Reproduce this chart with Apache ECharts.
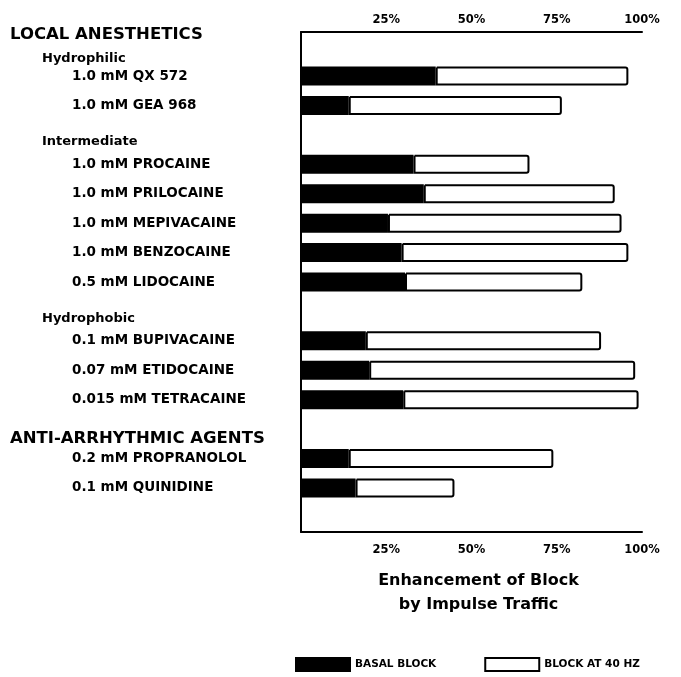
<!DOCTYPE html>
<html>
<head>
<meta charset="utf-8">
<script src="https://cdn.jsdelivr.net/npm/echarts@6/dist/echarts.min.js"></script>
<style>
  html,body{margin:0;padding:0;background:#fff;}
  #chart{width:681px;height:677px;}
</style>
</head>
<body>
<div id="chart"></div>
<script>
// rows, top to bottom (headers and blank rows have no bars)
var rowLabels = [
  'LOCAL ANESTHETICS|Hydrophilic',
  '1.0 mM QX 572',
  '1.0 mM GEA 968',
  'Intermediate',
  '1.0 mM PROCAINE',
  '1.0 mM PRILOCAINE',
  '1.0 mM MEPIVACAINE',
  '1.0 mM BENZOCAINE',
  '0.5 mM LIDOCAINE',
  'Hydrophobic',
  '0.1 mM BUPIVACAINE',
  '0.07 mM ETIDOCAINE',
  '0.015 mM TETRACAINE',
  'ANTI-ARRHYTHMIC AGENTS',
  '0.2 mM PROPRANOLOL',
  '0.1 mM QUINIDINE',
  ''
];
var groupLabels = ['LOCAL ANESTHETICS', 'ANTI-ARRHYTHMIC AGENTS'];
var subLabels = ['Hydrophilic', 'Intermediate', 'Hydrophobic'];
// % block
var basalBlock = [null, 39.5, 14, null, 33, 36, 25.5, 29.5, 30.5, null, 19, 20, 30, null, 14, 16, null];
var block40Hz  = [null, 96, 76.5, null, 67, 92, 94, 96, 82.5, null, 88, 98, 99, null, 74, 45, null];
var tickValues = [25, 50, 75, 100];

var extraBlock = [];
for(var i=0;i<block40Hz.length;i++)
{
  extraBlock[i] = block40Hz[i]==null ? null : +(block40Hz[i]-basalBlock[i]).toFixed(1);
}

var font = 'DejaVu Sans';
var chart = echarts.init(document.getElementById('chart'));

function rowFormatter(v, idx)
{
  var parts = v.split('|');
  var out = [];
  for(var i=0;i<parts.length;i++)
  {
    var p = parts[i];
    if(groupLabels.indexOf(p)>=0) out.push((idx>0?'{grpLow|':'{grp|')+p+'}');
    else if(subLabels.indexOf(p)>=0) out.push((idx>0?'{subLow|':'{sub|')+p+'}');
    else if(p!=='') out.push('{item|'+p+'}');
  }
  return out.join('\n');
}

function tickFormatter(v)
{
  return tickValues.indexOf(v)>=0 ? v+'%' : '';
}

var xAxisBase = {
  type: 'value',
  min: 0,
  max: 100,
  interval: 25,
  axisLine: {show: true, lineStyle: {color: '#000', width: 2}},
  axisTick: {show: false},
  splitLine: {show: false},
  axisLabel: {
    formatter: tickFormatter,
    color: '#000',
    fontFamily: font,
    fontWeight: 'bold',
    fontSize: 11.5
  }
};

var grpStyle = {color: '#000', fontFamily: font, fontSize: 16.5, fontWeight: 'bold', lineHeight: 23};
var subStyle = {color: '#000', fontFamily: font, fontSize: 13, fontWeight: 'bold', lineHeight: 23, padding: [0, 0, 0, 32]};

var option = {
  backgroundColor: '#fff',
  animation: false,
  grid: {left: 301, right: 39, top: 32, bottom: 145},
  legend: {
    left: 290,
    top: 652,
    itemWidth: 54,
    itemHeight: 13,
    itemGap: 48,
    icon: 'rect',
    textStyle: {color: '#000', fontFamily: font, fontWeight: 'bold', fontSize: 10.5},
    data: ['BASAL BLOCK', 'BLOCK AT 40 HZ']
  },
  xAxis: [
    echarts.util.merge({
      position: 'top',
      axisLabel: {margin: 6}
    }, xAxisBase, true),
    echarts.util.merge({
      position: 'bottom',
      name: 'Enhancement of Block\nby Impulse Traffic',
      nameLocation: 'middle',
      nameGap: 37,
      nameTextStyle: {
        color: '#000',
        fontFamily: font,
        fontWeight: 'bold',
        fontSize: 16,
        lineHeight: 24,
        padding: [0, 0, 0, 14]
      },
      axisLabel: {margin: 12}
    }, xAxisBase, true)
  ],
  yAxis: {
    type: 'category',
    inverse: true,
    data: rowLabels,
    axisLine: {show: true, lineStyle: {color: '#000', width: 2}},
    axisTick: {show: false},
    axisLabel: {
      align: 'left',
      margin: 291,
      interval: 0,
      formatter: rowFormatter,
      rich: {
        grp: grpStyle,
        grpLow: echarts.util.merge({padding: [20, 0, 0, 0]}, grpStyle),
        sub: subStyle,
        subLow: echarts.util.merge({padding: [14, 0, 0, 32]}, subStyle),
        item: {color: '#000', fontFamily: font, fontSize: 13.5, fontWeight: 'bold', padding: [0, 0, 0, 62]}
      }
    }
  },
  series: [
    {
      name: 'BASAL BLOCK',
      type: 'bar',
      stack: 'block',
      xAxisIndex: 1,
      barWidth: 19,
      itemStyle: {color: '#000', borderColor: '#000', borderWidth: 1.5},
      data: basalBlock
    },
    {
      name: 'BLOCK AT 40 HZ',
      type: 'bar',
      stack: 'block',
      xAxisIndex: 1,
      barWidth: 19,
      itemStyle: {color: '#fff', borderColor: '#000', borderWidth: 2, borderRadius: [0, 2, 2, 0]},
      data: extraBlock
    }
  ]
};
chart.setOption(option);
</script>
</body>
</html>
